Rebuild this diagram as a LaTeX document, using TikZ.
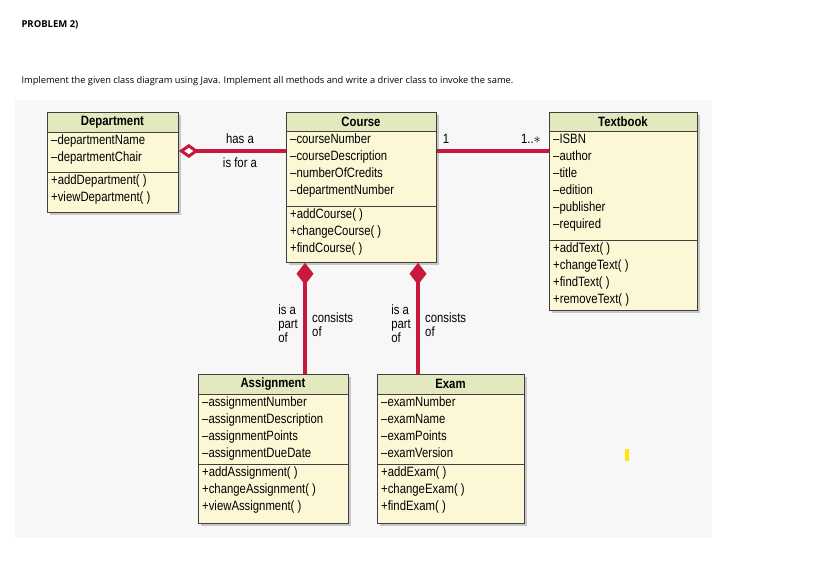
\documentclass[tikz,border=0pt]{standalone}
\usepackage{fontspec}
\setmainfont{Liberation Sans}[FakeStretch=0.84]
\newfontfamily\pagefont{Open Sans}
\usetikzlibrary{arrows.meta}
\definecolor{headc}{HTML}{E4E8BE}
\definecolor{bodyc}{HTML}{FCF8D6}
\definecolor{linkc}{HTML}{C8183C}
\definecolor{panelc}{HTML}{F7F7F7}
\tikzset{
  cls/.style={draw=black!75, line width=0.8pt, fill=bodyc, inner sep=0pt},
  txt/.style={font=\fontsize{13.5}{17}\selectfont, align=left, inner sep=0pt},
  lbl/.style={font=\fontsize{13.5}{14}\selectfont, inner sep=0pt},
  assoc/.style={draw=linkc, line width=3.5pt},
}
% class box: name, x1, x2, ytop, yhead, ysep, ybot, title
\newcommand{\umlclass}[8]{%
  \fill[black!22] (#2+3,#4+3) rectangle (#3+3,#7+3);
  \node[cls, anchor=north west, minimum width={(#3-#2)*1pt}, minimum height={(#7-#4)*1pt}] (#1) at (#2,#4) {};
  \fill[headc] (#2,#4) rectangle (#3,#5);
  \draw[black!75, line width=0.8pt] (#2,#5) -- (#3,#5) (#2,#6) -- (#3,#6) (#1.north west) rectangle (#1.south east);
  \node[font=\fontsize{13.5}{14}\selectfont\bfseries] (#1-t) at ({(#2+#3)/2},{(#4+#5)/2}) {#8};
}
\begin{document}
\begin{tikzpicture}[x=1pt,y=-1pt]
\useasboundingbox (0,0) rectangle (813,560);
\fill[white] (0,0) rectangle (813,560);
% page text
\node[anchor=west, font=\pagefont\fontsize{9.5}{11}\selectfont\bfseries] (prob) at (18,25) {PROBLEM 2)};
\node[anchor=west, font=\pagefont\fontsize{9.3}{11}\selectfont] (task) at (18,81) {Implement the given class diagram using Java. Implement all methods and write a driver class to invoke the same.};
\fill[panelc] (15,100) rectangle (712,538);

% classes
\umlclass{dept}{47}{178}{112}{132}{172}{212}{Department}
\node[txt, anchor=north west] (dept-a) at (51,135) {--departmentName\\--departmentChair};
\node[txt, anchor=north west] (dept-m) at (51,175) {+addDepartment( )\\+viewDepartment( )};

\umlclass{course}{286}{436}{112}{131}{206}{262}{Course}
\node[txt, anchor=north west] (course-a) at (290,134) {--courseNumber\\--courseDescription\\--numberOfCredits\\--departmentNumber};
\node[txt, anchor=north west] (course-m) at (290,209) {+addCourse( )\\+changeCourse( )\\+findCourse( )};

\umlclass{text}{549}{697}{112}{131}{240}{310}{Textbook}
\node[txt, anchor=north west] (text-a) at (553,134) {--ISBN\\--author\\--title\\--edition\\--publisher\\--required};
\node[txt, anchor=north west] (text-m) at (553,243) {+addText( )\\+changeText( )\\+findText( )\\+removeText( )};

\umlclass{assign}{198}{348}{374}{394}{464}{523}{Assignment}
\node[txt, anchor=north west] (assign-a) at (202,397) {--assignmentNumber\\--assignmentDescription\\--assignmentPoints\\--assignmentDueDate};
\node[txt, anchor=north west] (assign-m) at (202,467) {+addAssignment( )\\+changeAssignment( )\\+viewAssignment( )};

\umlclass{exam}{377}{524}{374}{394}{464}{523}{Exam}
\node[txt, anchor=north west] (exam-a) at (381,397) {--examNumber\\--examName\\--examPoints\\--examVersion};
\node[txt, anchor=north west] (exam-m) at (381,467) {+addExam( )\\+changeExam( )\\+findExam( )};

% links
\coordinate (row) at (0,151);
\coordinate (acol) at (305,0);
\coordinate (ecol) at (418,0);
\draw[assoc, {Diamond[open, fill=white, length=20pt, width=14pt, line width=3pt]}-] (dept.east |- row) -- (course.west |- row);
\draw[assoc] (course.east |- row) -- (text.west |- row);
\draw[assoc, {Diamond[length=22pt, width=17pt]}-] (course.south -| acol) -- (assign.north -| acol);
\draw[assoc, {Diamond[length=22pt, width=17pt]}-] (course.south -| ecol) -- (exam.north -| ecol);

% labels
\node[lbl] (hasa) at (240,139) {has a};
\node[lbl] (isfor) at (240,163) {is for a};
\node[lbl] (one) at (446,139) {1};
\node[lbl] (many) at (531,139) {1..$*$};
\node[lbl, align=left, anchor=north east] (partA) at (298,305) {is a\\part\\of};
\node[lbl, align=left, anchor=north west] (consA) at (312,313) {consists\\of};
\node[lbl, align=left, anchor=north east] (partE) at (411,305) {is a\\part\\of};
\node[lbl, align=left, anchor=north west] (consE) at (425,313) {consists\\of};

\fill[yellow!90!orange] (625,449) rectangle (629,461);
\end{tikzpicture}
\end{document}
